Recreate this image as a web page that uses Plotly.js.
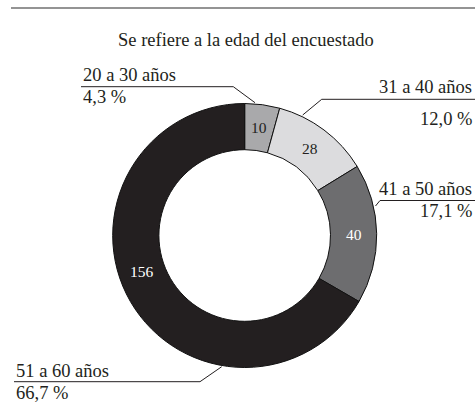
<!DOCTYPE html>
<html>
<head>
<meta charset="utf-8">
<script src="https://cdn.plot.ly/plotly-3.0.1.min.js"></script>
<style>html,body{margin:0;padding:0;background:#fff;}#chart{width:475px;height:420px;}</style>
</head>
<body>
<div id="chart"></div>
<script>
// ---- data ----
const categories = ["20 a 30 años", "31 a 40 años", "41 a 50 años", "51 a 60 años"];
const values = [10, 28, 40, 156];
const pctLabels = ["4,3 %", "12,0 %", "17,1 %", "66,7 %"];
const sliceColors = ["#a9a9ab", "#dcdcde", "#6d6d6f", "#231f20"];
const insideTextColors = ["#231f20", "#231f20", "#ffffff", "#ffffff"];
const insideAngleNudge = [0, 0, 0, 10.5]; // degrees, label placement tweak
const chartTitle = "Se refiere a la edad del encuestado";

// ---- layout helpers (pixel -> paper) ----
const W = 475, H = 420;
const px = x => x / W;
const py = y => 1 - y / H;
const FONT = "Liberation Serif, Times New Roman, serif";
const TXT = "#231f20";
const FS = 18.5;

const cx = 244.7, cy = 235.5, R = 132, HOLE = 0.65;

// label placements and leader polylines (pixel space)
const labelPos = [
  {x: 80.5, yName: 74.6, yPct: 97.4, anchor: "left",
   line: [[81, 86.7], [233.3, 86.7], [255, 102.7]]},
  {x: 474, yName: 87.2, yPct: 118.9, anchor: "right",
   line: [[475, 99.3], [321.7, 99.3], [302.7, 115]]},
  {x: 474, yName: 188.9, yPct: 210.6, anchor: "right",
   line: [[475, 200.5], [380, 200.5], [375.5, 206]]},
  {x: 13.5, yName: 370.6, yPct: 393.2, anchor: "left",
   line: [[14, 381.7], [200, 381.7], [221.7, 366.7]]}
];

const annotations = [];
const shapes = [];
categories.forEach((c, i) => {
  const p = labelPos[i];
  annotations.push({
    text: c, xref: "paper", yref: "paper", x: px(p.x), y: py(p.yName),
    xanchor: p.anchor, yanchor: "middle", showarrow: false,
    font: {family: FONT, size: FS, color: TXT}
  });
  annotations.push({
    text: pctLabels[i], xref: "paper", yref: "paper", x: px(p.x), y: py(p.yPct),
    xanchor: p.anchor, yanchor: "middle", showarrow: false,
    font: {family: FONT, size: FS, color: TXT}
  });
  const path = p.line.map((pt, k) => (k ? "L" : "M") + px(pt[0]) + "," + py(pt[1])).join(" ");
  shapes.push({type: "path", xref: "paper", yref: "paper", path: path,
    line: {color: "#231f20", width: 1}});
});

// inside value labels at the middle of each slice (from the values)
const total = values.reduce((a, b) => a + b, 0);
let cum = 0;
const rMid = R * (1 + HOLE) / 2;
values.forEach((v, i) => {
  const midDeg = (cum + v / 2) / total * 360 + insideAngleNudge[i];
  cum += v;
  const a = midDeg * Math.PI / 180;
  const x = cx + rMid * Math.sin(a);
  const y = cy - rMid * Math.cos(a);
  annotations.push({
    text: String(v), xref: "paper", yref: "paper", x: px(x), y: py(y),
    xanchor: "center", yanchor: "middle", showarrow: false,
    font: {family: FONT, size: 15.5, color: insideTextColors[i]}
  });
});

annotations.push({
  text: chartTitle, xref: "paper", yref: "paper", x: px(245.5), y: py(39.6),
  xanchor: "center", yanchor: "middle", showarrow: false,
  font: {family: FONT, size: FS, color: TXT}
});

// top rule
shapes.push({type: "line", xref: "paper", yref: "paper",
  x0: px(11), x1: px(475), y0: py(8), y1: py(8),
  line: {color: "#2a2a2a", width: 1.2}});

const trace = {
  type: "pie",
  labels: categories,
  values: values,
  sort: false,
  direction: "clockwise",
  rotation: 0,
  hole: HOLE,
  textinfo: "none",
  marker: {colors: sliceColors, line: {color: "#111111", width: 1}},
  domain: {x: [px(cx - R), px(cx + R)], y: [py(cy + R), py(cy - R)]},
  showlegend: false,
  hoverinfo: "none"
};

const layout = {
  width: W, height: H,
  margin: {l: 0, r: 0, t: 0, b: 0},
  paper_bgcolor: "#ffffff",
  plot_bgcolor: "#ffffff",
  showlegend: false,
  annotations: annotations,
  shapes: shapes,
  font: {family: FONT}
};

Plotly.newPlot("chart", [trace], layout, {staticPlot: true});
</script>
</body>
</html>
